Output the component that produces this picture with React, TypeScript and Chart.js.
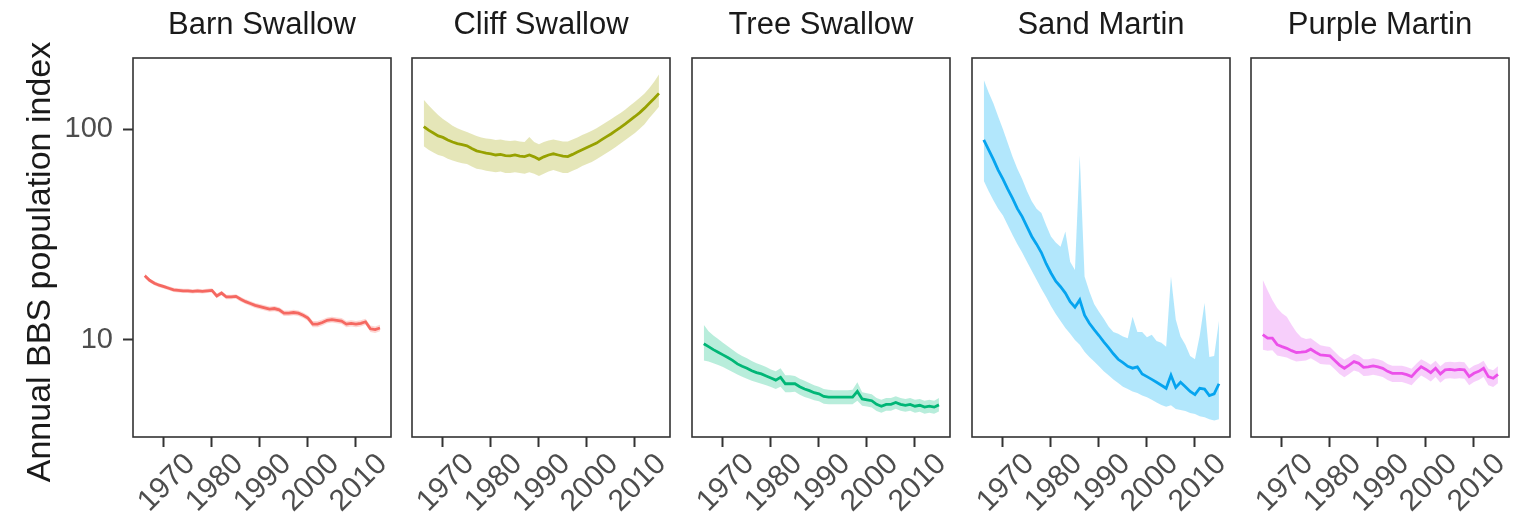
import React, { useEffect, useRef } from "react";
import { Chart, registerables } from "chart.js";
Chart.register(...registerables);

const YEARS = [1966, 1967, 1968, 1969, 1970, 1971, 1972, 1973, 1974, 1975, 1976, 1977, 1978, 1979, 1980, 1981, 1982, 1983, 1984, 1985, 1986, 1987, 1988, 1989, 1990, 1991, 1992, 1993, 1994, 1995, 1996, 1997, 1998, 1999, 2000, 2001, 2002, 2003, 2004, 2005, 2006, 2007, 2008, 2009, 2010, 2011, 2012, 2013, 2014, 2015];
const X_TICKS = [1970, 1980, 1990, 2000, 2010];
const Y_TICKS = [10, 100];
const SPECIES = ["Barn Swallow", "Cliff Swallow", "Tree Swallow", "Sand Martin", "Purple Martin"];
const Y_TITLE = "Annual BBS population index";

const BARN_MEAN = [20.2, 19.2, 18.6, 18.2, 17.9, 17.6, 17.3, 17.2, 17.1, 17.1, 17.0, 17.1, 17.0, 17.1, 17.2, 16.2, 16.7, 16.0, 16.0, 16.1, 15.6, 15.2, 14.9, 14.6, 14.4, 14.2, 14.0, 14.1, 13.9, 13.4, 13.4, 13.5, 13.4, 13.1, 12.7, 11.9, 11.9, 12.1, 12.4, 12.5, 12.4, 12.3, 11.9, 12.0, 11.9, 12.0, 12.2, 11.3, 11.2, 11.4];
const BARN_HIGH = [20.7, 19.6, 19.0, 18.6, 18.3, 18.0, 17.7, 17.6, 17.5, 17.5, 17.4, 17.5, 17.4, 17.5, 17.6, 16.6, 17.1, 16.4, 16.4, 16.5, 16.0, 15.6, 15.3, 15.0, 14.8, 14.6, 14.4, 14.5, 14.3, 13.8, 13.8, 13.9, 13.8, 13.5, 13.1, 12.3, 12.3, 12.5, 12.8, 12.9, 12.8, 12.7, 12.3, 12.4, 12.3, 12.4, 12.6, 11.7, 11.6, 11.8];
const BARN_LOW = [19.7, 18.8, 18.2, 17.8, 17.5, 17.2, 16.9, 16.8, 16.7, 16.7, 16.6, 16.7, 16.6, 16.7, 16.8, 15.8, 16.3, 15.6, 15.6, 15.7, 15.2, 14.8, 14.5, 14.2, 14.0, 13.8, 13.6, 13.7, 13.5, 13.0, 13.0, 13.1, 13.0, 12.7, 12.3, 11.5, 11.5, 11.7, 12.0, 12.1, 12.0, 11.9, 11.5, 11.6, 11.5, 11.6, 11.8, 10.9, 10.8, 11.0];

const CLIFF_MEAN = [103, 99, 96, 93, 91.5, 89, 87, 85.5, 84.5, 83.5, 81, 79, 78, 77, 76.5, 75.5, 76, 75, 74.8, 75.5, 74.5, 74.2, 75.5, 74, 72, 74, 75.5, 76.5, 75.5, 74.5, 74.2, 76, 78, 80, 82, 84, 86, 89, 92, 95, 98.5, 102, 106, 110.5, 115, 120, 126, 133, 140, 148];
const CLIFF_HIGH = [138, 130, 123, 117, 112, 108, 104, 101, 99, 97, 95, 93, 91.5, 90.5, 90, 89, 89.5, 88.5, 88, 88.5, 87.5, 87, 92, 87, 85, 87, 88.5, 89.5, 88.5, 87.5, 87.5, 89.5, 91.5, 94, 96, 98.5, 101, 104.5, 108, 111.5, 115.5, 119.5, 124, 129.5, 135, 141, 148, 157, 168, 182];
const CLIFF_LOW = [83, 80, 77.5, 75.5, 74.5, 72.5, 71, 70, 69, 68.5, 66.5, 65, 64.5, 63.5, 63, 62.5, 63, 62, 62, 62.5, 62, 61.5, 62.5, 61.5, 60, 61.5, 63, 64, 63, 62, 62, 63.5, 65, 67, 68.5, 70, 72, 74.5, 77, 79.5, 82.5, 85.5, 89, 92.5, 96, 100.5, 105.5, 113, 120, 128];

const TREE_MEAN = [9.6, 9.3, 9.0, 8.75, 8.5, 8.25, 8.0, 7.7, 7.5, 7.35, 7.15, 7.0, 6.9, 6.75, 6.6, 6.45, 6.65, 6.2, 6.2, 6.2, 6.0, 5.85, 5.75, 5.62, 5.55, 5.4, 5.35, 5.35, 5.35, 5.35, 5.35, 5.35, 5.7, 5.25, 5.2, 5.15, 4.95, 4.85, 4.95, 4.95, 5.05, 4.95, 4.9, 4.95, 4.85, 4.9, 4.8, 4.85, 4.8, 4.92];
const TREE_HIGH = [11.8, 11.0, 10.5, 10.1, 9.7, 9.35, 9.0, 8.65, 8.4, 8.2, 7.95, 7.75, 7.6, 7.45, 7.25, 7.1, 7.35, 6.8, 6.8, 6.75, 6.55, 6.4, 6.25, 6.1, 6.0, 5.85, 5.8, 5.78, 5.78, 5.78, 5.78, 5.8, 6.3, 5.65, 5.58, 5.52, 5.3, 5.2, 5.3, 5.3, 5.4, 5.3, 5.25, 5.3, 5.2, 5.25, 5.15, 5.2, 5.15, 5.3];
const TREE_LOW = [8.0, 7.9, 7.75, 7.6, 7.45, 7.25, 7.05, 6.85, 6.7, 6.55, 6.4, 6.3, 6.2, 6.1, 5.98, 5.85, 6.0, 5.65, 5.65, 5.68, 5.5, 5.37, 5.28, 5.18, 5.12, 4.98, 4.95, 4.95, 4.95, 4.95, 4.95, 4.95, 5.15, 4.87, 4.83, 4.78, 4.6, 4.52, 4.62, 4.62, 4.72, 4.62, 4.57, 4.62, 4.52, 4.57, 4.47, 4.52, 4.47, 4.58];

const SAND_MEAN = [89, 80, 72, 64, 58, 52, 47, 42, 38.5, 34.5, 31, 28.5, 26, 23, 20.8, 19, 17.9, 16.7, 15.2, 14.3, 15.5, 13.1, 12.0, 11.2, 10.5, 9.8, 9.2, 8.6, 8.1, 7.8, 7.5, 7.35, 7.45, 6.9, 6.7, 6.5, 6.3, 6.1, 5.9, 6.8, 5.95, 6.3, 6.0, 5.7, 5.5, 5.9, 5.85, 5.45, 5.55, 6.2];
const SAND_HIGH = [172, 150, 133, 115, 100, 86, 74, 65, 58, 51, 45.5, 42, 40, 35, 31, 29, 27.7, 32.7, 23.5, 21.5, 75, 20, 17, 14.8, 13.6, 12.6, 11.6, 10.9, 10.7, 10.4, 10.2, 12.9, 10.9, 10.9, 10.3, 10.6, 9.9, 9.7, 9.3, 20, 12.5, 10.4, 9.5, 8.4, 8.1, 10.5, 15, 8.3, 8.4, 12.3];
const SAND_LOW = [57, 51, 46, 42, 39, 35, 31.5, 28.5, 26, 23.5, 21.3, 19.3, 17.5, 16, 14.5, 13.3, 12.3, 11.4, 10.7, 10.0, 9.5, 8.8, 8.3, 7.9, 7.5, 7.1, 6.8, 6.5, 6.25, 6.0, 5.85, 5.7, 5.6, 5.45, 5.35, 5.2, 5.05, 4.92, 4.82, 4.9, 4.7, 4.65, 4.6, 4.5, 4.45, 4.35, 4.3, 4.2, 4.15, 4.2];

const PURPLE_MEAN = [10.6, 10.2, 10.2, 9.5, 9.3, 9.13, 8.9, 8.72, 8.75, 8.81, 9.04, 8.75, 8.49, 8.45, 8.4, 8.0, 7.6, 7.34, 7.6, 7.89, 7.75, 7.42, 7.45, 7.53, 7.45, 7.34, 7.1, 6.95, 6.95, 6.95, 6.85, 6.7, 7.1, 7.47, 7.25, 7.0, 7.34, 6.9, 7.21, 7.25, 7.2, 7.25, 7.21, 6.7, 6.95, 7.1, 7.34, 6.7, 6.58, 6.87];
const PURPLE_HIGH = [19.3, 17.2, 15.5, 14.2, 13.4, 12.9, 11.8, 10.9, 10.3, 10.1, 10.2, 9.8, 9.45, 9.35, 9.25, 8.8, 8.35, 8.05, 8.3, 8.6, 8.45, 8.1, 8.1, 8.2, 8.1, 7.98, 7.7, 7.55, 7.55, 7.55, 7.45, 7.3, 7.72, 8.1, 7.88, 7.62, 7.98, 7.5, 7.84, 7.88, 7.83, 7.88, 7.84, 7.3, 7.56, 7.72, 7.98, 7.3, 7.18, 7.5];
const PURPLE_LOW = [9.0, 8.9, 8.95, 8.45, 8.35, 8.25, 8.05, 7.9, 7.95, 8.0, 8.2, 7.95, 7.7, 7.66, 7.62, 7.26, 6.9, 6.66, 6.9, 7.16, 7.04, 6.74, 6.77, 6.84, 6.77, 6.67, 6.45, 6.32, 6.32, 6.32, 6.22, 6.09, 6.45, 6.79, 6.59, 6.36, 6.67, 6.27, 6.55, 6.59, 6.54, 6.59, 6.55, 6.09, 6.32, 6.45, 6.67, 6.09, 5.98, 6.24];

const MEANS = [BARN_MEAN, CLIFF_MEAN, TREE_MEAN, SAND_MEAN, PURPLE_MEAN];
const HIGHS = [BARN_HIGH, CLIFF_HIGH, TREE_HIGH, SAND_HIGH, PURPLE_HIGH];
const LOWS = [BARN_LOW, CLIFF_LOW, TREE_LOW, SAND_LOW, PURPLE_LOW];

// styling
const LINE_COLORS = ["#F4625C", "#93A000", "#00B374", "#0AA0EC", "#EE45E6"];
const BAND_COLORS = ["rgba(248,118,109,0.3)", "rgba(163,165,0,0.28)", "rgba(0,191,125,0.28)", "rgba(0,176,246,0.3)", "rgba(231,107,243,0.32)"];
const FONT = '"Liberation Sans", Arial, Helvetica, sans-serif';
const PANEL_LEFT = [133, 412, 692, 972, 1251];
const PANEL_W = 258;
const AREA_TOP = 58;
const AREA_BOTTOM = 437;
const H = 515;
const Y_AXIS_W = 133;
const PAD = 4;

const boxPlugin = {
  id: "panelBox",
  afterDatasetsDraw(chart: any) {
    const { ctx, chartArea: a } = chart;
    ctx.save();
    ctx.strokeStyle = "#333333";
    ctx.lineWidth = 1.6;
    ctx.strokeRect(a.left, a.top, a.right - a.left, a.bottom - a.top);
    ctx.restore();
  },
};

const xLabelPlugin = {
  id: "xLabels",
  afterDraw(chart: any) {
    const { ctx, chartArea } = chart;
    const s = chart.scales.x;
    ctx.save();
    ctx.font = `30px ${FONT}`;
    ctx.fillStyle = "#4D4D4D";
    ctx.textAlign = "center";
    ctx.textBaseline = "middle";
    for (const t of s.ticks) {
      const px = s.getPixelForValue(t.value);
      ctx.save();
      ctx.translate(px + 3, chartArea.bottom + 46);
      ctx.rotate(-Math.PI / 4);
      ctx.fillText(String(t.value), 0, 0);
      ctx.restore();
    }
    ctx.restore();
  },
};

const yTitlePlugin = {
  id: "yTitle",
  afterDraw(chart: any) {
    const { ctx } = chart;
    ctx.save();
    ctx.font = `34px ${FONT}`;
    ctx.fillStyle = "#1A1A1A";
    ctx.textAlign = "center";
    ctx.textBaseline = "alphabetic";
    ctx.translate(50, 262);
    ctx.rotate(-Math.PI / 2);
    ctx.fillText(Y_TITLE, 0, 0);
    ctx.restore();
  },
};

function pts(vals: number[]) {
  return YEARS.map((y, i) => ({ x: y, y: vals[i] }));
}

export default function App() {
  const refs = [useRef<HTMLCanvasElement>(null), useRef<HTMLCanvasElement>(null), useRef<HTMLCanvasElement>(null), useRef<HTMLCanvasElement>(null), useRef<HTMLCanvasElement>(null)];

  useEffect(() => {
    const charts: Chart[] = [];
    SPECIES.forEach((name, i) => {
      const canvas = refs[i].current;
      if (!canvas) return;
      const first = i === 0;
      const plugins: any[] = [boxPlugin, xLabelPlugin];
      if (first) plugins.push(yTitlePlugin);
      const chart = new Chart(canvas, {
        type: "line",
        data: {
          datasets: [
            {
              label: name + " lower",
              data: pts(LOWS[i]),
              borderWidth: 0,
              borderColor: "rgba(0,0,0,0)",
              pointRadius: 0,
              fill: false,
            },
            {
              label: name + " upper",
              data: pts(HIGHS[i]),
              borderWidth: 0,
              borderColor: "rgba(0,0,0,0)",
              backgroundColor: BAND_COLORS[i],
              pointRadius: 0,
              fill: "-1",
            },
            {
              label: name,
              data: pts(MEANS[i]),
              borderColor: LINE_COLORS[i],
              borderWidth: 2.8,
              pointRadius: 0,
              fill: false,
              tension: 0,
            },
          ],
        },
        options: {
          animation: false,
          responsive: false,
          events: [],
          layout: { padding: { left: first ? 0 : PAD, right: PAD, top: 0, bottom: 0 } },
          plugins: {
            legend: { display: false },
            tooltip: { enabled: false },
            title: {
              display: true,
              text: name,
              fullSize: false,
              color: "#1A1A1A",
              font: { family: FONT, size: 31, weight: "normal", lineHeight: 1.2 },
              padding: { top: 7, bottom: AREA_TOP - 7 - 37.2 },
            },
          },
          scales: {
            x: {
              type: "linear",
              min: 1963.55,
              max: 2017.3,
              afterBuildTicks: (s: any) => {
                s.ticks = X_TICKS.map((v) => ({ value: v }));
              },
              afterFit: (s: any) => {
                s.height = H - AREA_BOTTOM;
              },
              ticks: { display: false },
              grid: {
                display: true,
                drawOnChartArea: false,
                drawTicks: true,
                tickLength: 10,
                tickWidth: 2,
                tickColor: "#333333",
              },
              border: { display: false },
            },
            y: {
              type: "logarithmic",
              display: first,
              min: 3.464,
              max: 217.9,
              afterBuildTicks: (s: any) => {
                s.ticks = Y_TICKS.map((v) => ({ value: v }));
              },
              afterFit: (s: any) => {
                s.width = first ? Y_AXIS_W : 0;
              },
              ticks: {
                padding: 10,
                color: "#4D4D4D",
                font: { family: FONT, size: 29 },
                callback: (v: any) => String(v),
              },
              grid: {
                display: true,
                drawOnChartArea: false,
                drawTicks: true,
                tickLength: 10,
                tickWidth: 2,
                tickColor: "#333333",
              },
              border: { display: false },
            },
          },
        },
        plugins,
      } as any);
      charts.push(chart);
    });
    return () => charts.forEach((c) => c.destroy());
  }, []);

  return (
    <div style={{ position: "absolute", left: 0, top: 0, width: 1513, height: H, background: "#ffffff" }}>
      {SPECIES.map((name, i) => {
        const left = i === 0 ? 0 : PANEL_LEFT[i] - PAD;
        const width = i === 0 ? Y_AXIS_W + PANEL_W + PAD : PANEL_W + 2 * PAD;
        return (
          <canvas
            key={name}
            ref={refs[i]}
            width={width}
            height={H}
            style={{ position: "absolute", left, top: 0, width, height: H }}
          />
        );
      })}
    </div>
  );
}
